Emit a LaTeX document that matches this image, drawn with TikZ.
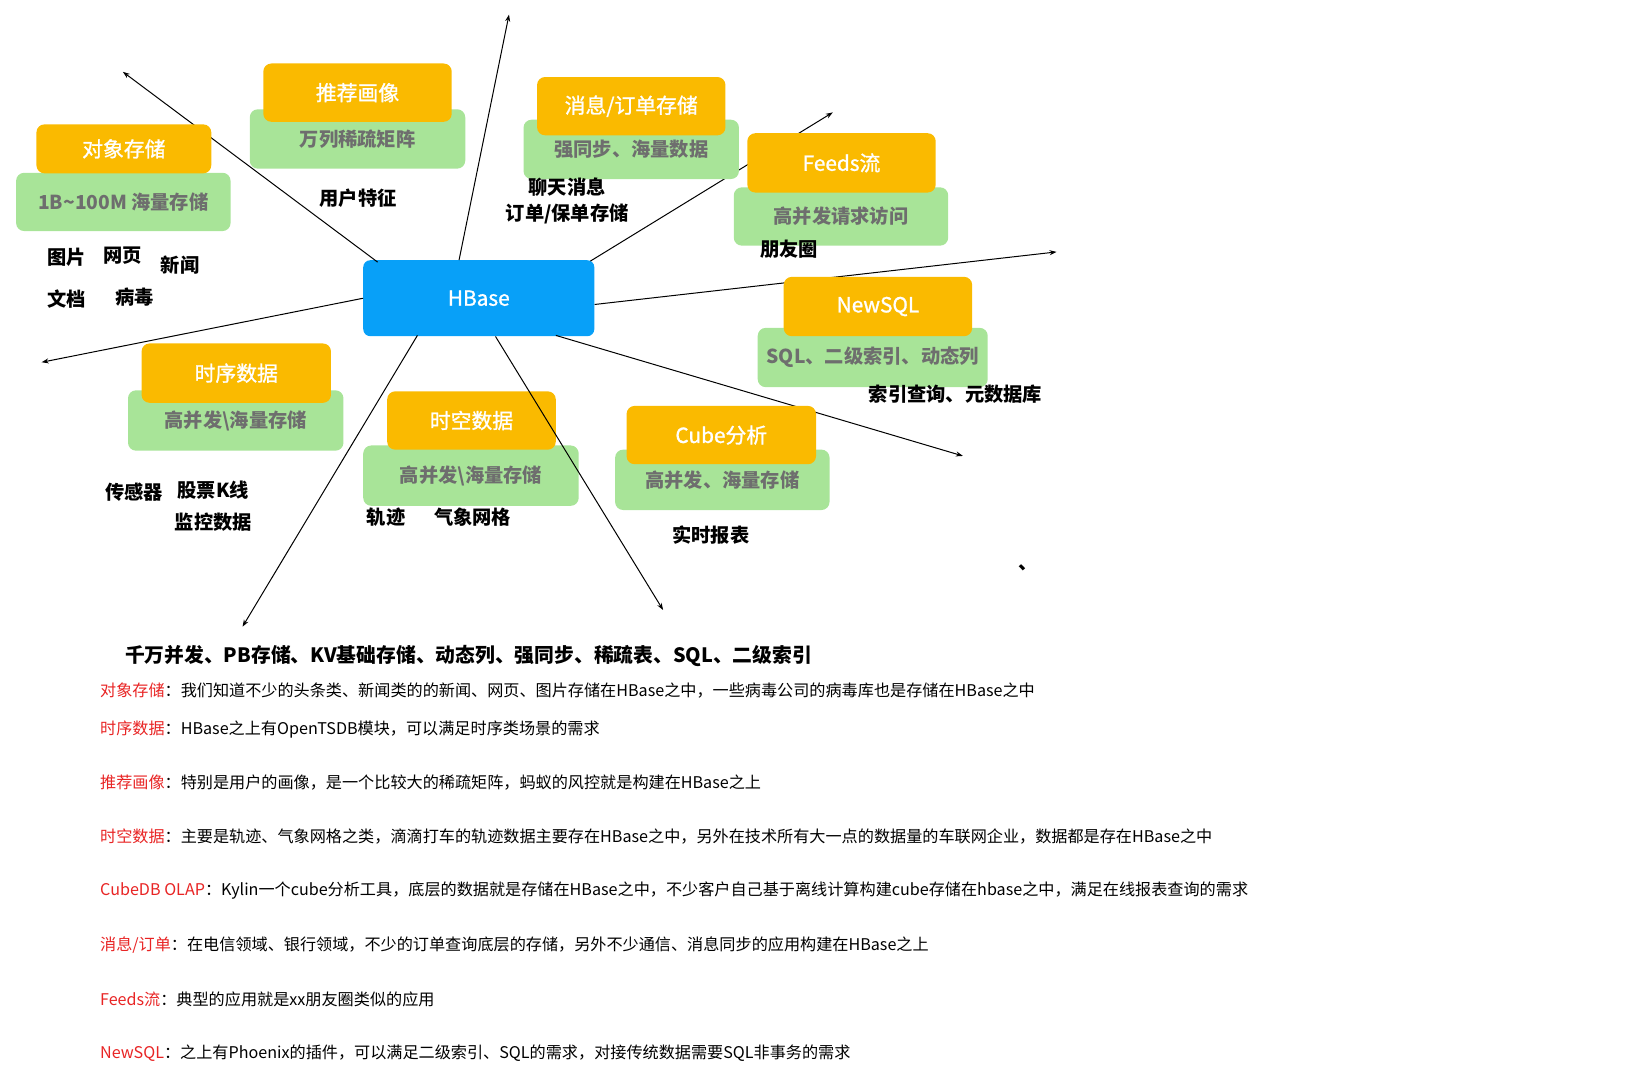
\documentclass[tikz,border=0pt]{standalone}
\usepackage{fontspec}
\setmainfont{Noto Sans CJK SC}
\newfontfamily\tagfont{Noto Sans CJK SC}[FakeBold=1.2]
\usetikzlibrary{arrows.meta,calc}
\definecolor{hbaseblue}{RGB}{8,160,248}
\definecolor{cardorange}{RGB}{250,186,0}
\definecolor{cardgreen}{RGB}{168,228,152}
\definecolor{cardtext}{RGB}{110,110,110}
\definecolor{notered}{RGB}{232,36,36}
\tikzset{
  hbasebox/.style={fill=hbaseblue,rounded corners=7pt,text=white,minimum width=222pt,minimum height=73pt,inner sep=0pt,font=\tagfont\fontsize{20}{24}\selectfont},
  toptag/.style={fill=cardorange,rounded corners=8pt,text=white,inner sep=0pt,font=\tagfont\fontsize{20}{24}\selectfont},
  basetag/.style={fill=cardgreen,rounded corners=8pt,text=cardtext,inner sep=0pt,font=\bfseries\fontsize{18.5}{22}\selectfont},
  usecase/.style={inner sep=0pt,font=\bfseries\fontsize{18.5}{22}\selectfont},
  noteline/.style={anchor=west,inner sep=0pt,font=\fontsize{15.5}{18}\selectfont},
  ray/.style={line width=1pt,-{Stealth[length=7pt,width=5pt]}}
}
\begin{document}
\begin{tikzpicture}[x=1pt,y=-1pt,scale=1.0408,transform shape]
\useasboundingbox (0,0) rectangle (1568,1039.6);
% ray ends
\coordinate (e1) at (118,69);
\coordinate (e2) at (489,14);
\coordinate (e3) at (800,108);
\coordinate (e4) at (1015,242);
\coordinate (e5) at (925,438);
\coordinate (e6) at (637,586);
\coordinate (e7) at (233,602);
\coordinate (e8) at (40,348);
\node[hbasebox] (hbase) at (460,286.5) {HBase};
\draw[ray] ($(hbase.north west)+(14,2)$) -- (e1);
\draw[ray] ($(hbase.north)+(-19,0)$) -- (e2);
\draw[ray] ($(hbase.north east)+(-4,1)$) -- (e3);
\draw[ray] ($(hbase.east)+(0,6)$) -- (e4);
\draw[ray] ($(hbase.south)+(74,-1)$) -- (e5);
\draw[ray] ($(hbase.south)+(-59,-1)$) -- (e7);
\draw[ray] (hbase.west) -- (e8);
% cards
\node[basetag,minimum width=206pt,minimum height=56pt] (objb) at (118.5,194) {1B\textasciitilde 100M 海量存储};
\node[toptag,minimum width=168pt,minimum height=47pt] (objt) at (119,143) {对象存储};
\node[basetag,minimum width=207pt,minimum height=57pt] (recb) at (343.5,133.5) {万列稀疏矩阵};
\node[toptag,minimum width=181pt,minimum height=56pt] (rect) at (343.5,89) {推荐画像};
\node[basetag,minimum width=207pt,minimum height=57pt] (msgb) at (606.5,143.5) {强同步、海量数据};
\node[toptag,minimum width=181pt,minimum height=56pt] (msgt) at (606.5,102) {消息/订单存储};
\node[basetag,minimum width=206pt,minimum height=56pt] (feedb) at (808,208) {高并发请求访问};
\node[toptag,minimum width=181pt,minimum height=57pt] (feedt) at (808.5,156.5) {Feeds流};
\node[basetag,minimum width=221pt,minimum height=57pt] (sqlb) at (838.5,343.5) {SQL、二级索引、动态列};
\node[toptag,minimum width=181pt,minimum height=57pt] (sqlt) at (843.5,294.5) {NewSQL};
\node[basetag,minimum width=207pt,minimum height=58pt] (tsb) at (226.5,404) {高并发\textbackslash 海量存储};
\node[toptag,minimum width=182pt,minimum height=57pt] (tst) at (227,358.5) {时序数据};
\node[basetag,minimum width=207pt,minimum height=58pt] (geob) at (452.5,457) {高并发\textbackslash 海量存储};
\node[toptag,minimum width=162pt,minimum height=56pt] (geot) at (453,404) {时空数据};
\node[basetag,minimum width=206pt,minimum height=58pt] (cubeb) at (694,461) {高并发、海量存储};
\node[toptag,minimum width=182pt,minimum height=56pt] (cubet) at (693,418) {Cube分析};
\draw[ray] ($(hbase.south)+(16,0)$) -- (e6);
% use cases
\node[usecase] (pic) at (64,247) {图片};
\node[usecase] (web) at (118,246) {网页};
\node[usecase] (news) at (173,255) {新闻};
\node[usecase] (doc) at (64,287) {文档};
\node[usecase] (virus) at (129,285) {病毒};
\node[usecase] (user) at (344,190) {用户特征};
\node[usecase] (chat) at (545,180) {聊天消息};
\node[usecase] (order) at (545,206) {订单/保单存储};
\node[usecase] (moments) at (758,239) {朋友圈};
\node[usecase] (index) at (918,379) {索引查询、元数据库};
\node[usecase] (sensor) at (129,473) {传感器};
\node[usecase] (stock) at (205,471) {股票K线};
\node[usecase] (monitor) at (205,502) {监控数据};
\node[usecase] (track) at (371,497) {轨迹};
\node[usecase] (weather) at (454,497) {气象网格};
\node[usecase] (report) at (683,514) {实时报表};
\node[usecase] (dot) at (988,546) {、};
\node[usecase,anchor=west,font=\bfseries\fontsize{19}{22}\selectfont] (summary) at (120,630) {千万并发、PB存储、KV基础存储、动态列、强同步、稀疏表、SQL、二级索引};
% notes
\node[noteline] (n1) at (96,663) {{\color{notered}对象存储}：我们知道不少的头条类、新闻类的的新闻、网页、图片存储在HBase之中，一些病毒公司的病毒库也是存储在HBase之中};
\node[noteline] (n2) at (96,701) {{\color{notered}时序数据}：HBase之上有OpenTSDB模块，可以满足时序类场景的需求};
\node[noteline] (n3) at (96,752) {{\color{notered}推荐画像}：特别是用户的画像，是一个比较大的稀疏矩阵，蚂蚁的风控就是构建在HBase之上};
\node[noteline] (n4) at (96,804) {{\color{notered}时空数据}：主要是轨迹、气象网格之类，滴滴打车的轨迹数据主要存在HBase之中，另外在技术所有大一点的数据量的车联网企业，数据都是存在HBase之中};
\node[noteline] (n5) at (96,856) {{\color{notered}CubeDB OLAP}：Kylin一个cube分析工具，底层的数据就是存储在HBase之中，不少客户自己基于离线计算构建cube存储在hbase之中，满足在线报表查询的需求};
\node[noteline] (n6) at (96,908) {{\color{notered}消息/订单}：在电信领域、银行领域，不少的订单查询底层的存储，另外不少通信、消息同步的应用构建在HBase之上};
\node[noteline] (n7) at (96,960) {{\color{notered}Feeds流}：典型的应用就是xx朋友圈类似的应用};
\node[noteline] (n8) at (96,1012) {{\color{notered}NewSQL}：之上有Phoenix的插件，可以满足二级索引、SQL的需求，对接传统数据需要SQL非事务的需求};
\end{tikzpicture}
\end{document}
